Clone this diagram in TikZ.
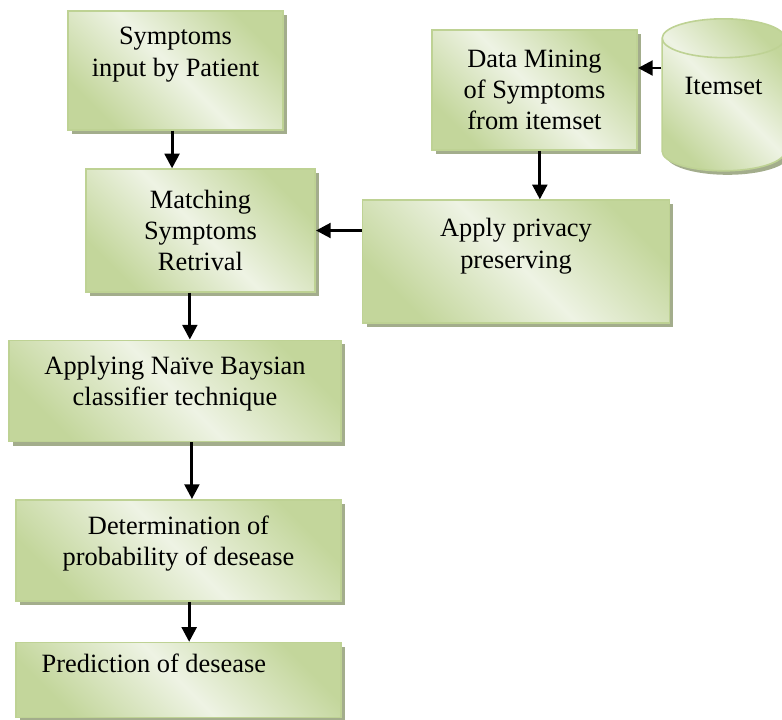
\documentclass[tikz,border=0pt]{standalone}
\usepackage{fontspec}
\setmainfont{Liberation Serif}
\usepackage{tikz}
\usetikzlibrary{arrows.meta}
\usetikzlibrary{shadows}
\usetikzlibrary{shapes.geometric}
\definecolor{gdark}{RGB}{195,214,155}
\definecolor{glight}{RGB}{238,243,228}
\definecolor{gline}{RGB}{190,210,148}
\definecolor{gshadow}{RGB}{163,173,140}

\begin{document}
\begin{tikzpicture}[x=0.75pt,y=-0.75pt]

\tikzstyle{box}=[draw=gline,line width=1.2pt,shading=axis,top color=gdark,bottom color=gdark,middle color=glight,shading angle=-45,drop shadow={shadow xshift=3pt,shadow yshift=-3pt,fill=gshadow,opacity=1},inner sep=0pt,font=\fontsize{19.8}{23.5}\selectfont,align=center]
\tikzstyle{txt}=[font=\fontsize{19.8}{23.5}\selectfont,align=center]
\tikzstyle{arrow}=[line width=2.2pt,-{Triangle[length=11pt,width=11pt]}]

\useasboundingbox (0,0) rectangle (782,719);

% TOP BOXES
\node (symp) [box,minimum width=161pt,minimum height=89pt,label={[txt,yshift=12pt]center:Symptoms\\input by Patient}] at (175.5,70.5) {};
\node (match) [box,minimum width=172pt,minimum height=92pt] at (200.5,230.5) {Matching\\Symptoms\\Retrival};
\node (mine) [box,minimum width=154pt,minimum height=90pt] at (534.5,90) {Data Mining\\of Symptoms\\from itemset};
\node (priv) [box,minimum width=230pt,minimum height=92pt,label={[txt,yshift=11.6pt]center:Apply privacy\\preserving}] at (516,261.5) {};

% ITEMSET
\node (item) [box,cylinder,shape border rotate=90,aspect=0.5,minimum width=92pt,minimum height=114pt,anchor=north,label={[txt,yshift=14pt]center:Itemset}] at (723.5,18) {\phantom{Itemset}};

% LOWER BOXES
\node (bayes) [box,minimum width=249pt,minimum height=76pt,label={[txt,yshift=5.6pt]center:Applying Naïve Baysian\\classifier technique}] at (175,391) {};
\node (prob) [box,minimum width=244pt,minimum height=76pt,label={[txt,yshift=5.2pt]center:Determination of\\probability of desease}] at (178.5,550.5) {};
\node (pred) [box,minimum width=244pt,minimum height=56pt,label={[txt,anchor=west,xshift=16.5pt,yshift=12.7pt]west:Prediction of desease}] at (178.5,680) {};

% ARROWS
\draw [arrow] ([xshift=-2.6pt]symp.south) -- ([xshift=-2.6pt]symp.south |- match.north);
\draw [arrow] (priv.west |- match.east) -- (match.east);
\draw [arrow] ([xshift=4pt]mine.south) -- ([xshift=4pt]mine.south |- priv.north);
\draw [arrow] ([yshift=16.5pt]mine.east -| item.west) -- ([yshift=16.5pt]mine.east);
\draw [arrow] ([xshift=-8pt]match.south) -- ([xshift=-8pt]match.south |- bayes.north);
\draw [arrow] ([xshift=12.7pt]bayes.south) -- ([xshift=12.7pt]bayes.south |- prob.north);
\draw [arrow] ([xshift=8pt]prob.south) -- ([xshift=8pt]prob.south |- pred.north);

\end{tikzpicture}
\end{document}
